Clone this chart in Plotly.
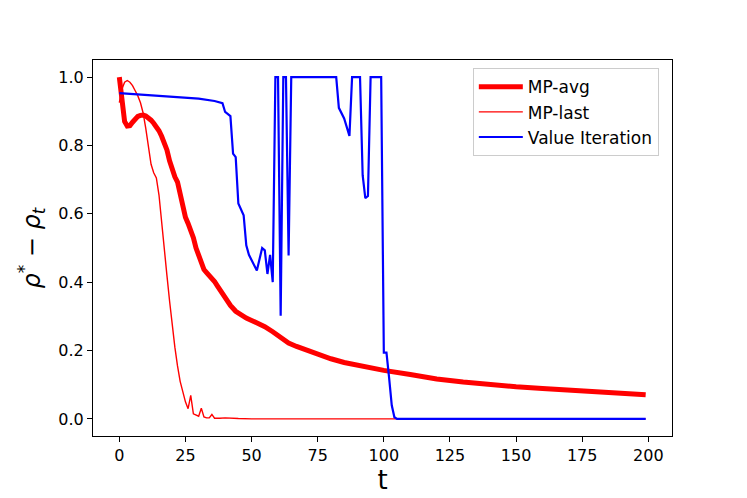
import plotly.graph_objects as go

# MP-avg (thick red)
avg_t = [0, 1, 2, 3, 4, 5, 6, 7, 8, 9, 10, 11, 12, 13, 14, 15, 16, 17, 18, 19,
         20, 21, 22, 23, 24, 25, 26, 27, 28, 29, 30, 31, 32, 33, 34, 35, 36, 37,
         38, 40, 42, 44, 46, 48, 50, 52, 55, 58, 61, 64, 67, 70, 75, 80, 85, 90,
         95, 100, 110, 120, 130, 140, 150, 160, 170, 180, 190, 199]
avg_val = [1.0, 0.93, 0.87, 0.857, 0.858, 0.868, 0.878, 0.885, 0.888, 0.889,
           0.886, 0.881, 0.874, 0.865, 0.855, 0.843, 0.827, 0.81, 0.787, 0.755,
           0.725, 0.708, 0.693, 0.655, 0.615, 0.59, 0.572, 0.555, 0.53, 0.5,
           0.475, 0.455, 0.437, 0.428, 0.42, 0.414, 0.402, 0.39, 0.378, 0.352,
           0.332, 0.315, 0.303, 0.295, 0.288, 0.281, 0.27, 0.255, 0.24, 0.222,
           0.212, 0.203, 0.188, 0.176, 0.165, 0.157, 0.149, 0.142, 0.13, 0.117,
           0.108, 0.1, 0.094, 0.089, 0.084, 0.079, 0.075, 0.071]

# MP-last (thin red)
last_t = [0, 1, 2, 3, 4, 5, 6, 7, 8, 9, 10, 11, 12, 13, 14, 15, 16, 17, 18, 19,
          20, 21, 22, 23, 24, 25, 26, 27, 28, 29, 30, 31, 32, 33, 34, 35, 36,
          38, 40, 45, 50, 199]
last_val = [0.925, 0.965, 0.985, 0.99, 0.985, 0.975, 0.96, 0.945, 0.925, 0.895,
            0.85, 0.79, 0.745, 0.72, 0.705, 0.655, 0.57, 0.5, 0.42, 0.345,
            0.27, 0.21, 0.155, 0.11, 0.08, 0.05, 0.03, 0.069, 0.015, 0.012,
            0.008, 0.031, 0.006, 0.003, 0.003, 0.013, 0.002, 0.002, 0.003,
            0.001, 0.0, 0.0]

# Value Iteration (blue)
vi_t = [0, 10, 20, 30, 36, 38, 39, 40, 42, 43, 44, 45, 47, 48, 49, 52, 54, 55,
        56, 57, 58, 59, 60, 61, 62, 63, 64, 65, 82, 83, 85, 87, 88, 91, 92, 93,
        94, 95, 99, 100, 101, 102, 103, 104, 105, 199]
vi_val = [0.953, 0.948, 0.943, 0.937, 0.930, 0.926, 0.924, 0.898, 0.886, 0.776,
          0.766, 0.63, 0.596, 0.508, 0.48, 0.434, 0.50, 0.493, 0.424, 0.48,
          0.40, 1.0, 1.0, 0.302, 1.0, 1.0, 0.478, 1.0, 1.0, 0.91, 0.879, 0.828,
          1.0, 1.0, 0.713, 0.646, 0.652, 1.0, 1.0, 0.194, 0.194, 0.12, 0.04,
          0.005, 0.0, 0.0]

fig = go.Figure()
fig.add_trace(go.Scatter(x=avg_t, y=avg_val, mode='lines', name='MP-avg',
                         line=dict(color='#ff0000', width=5)))
fig.add_trace(go.Scatter(x=last_t, y=last_val, mode='lines', name='MP-last',
                         line=dict(color='#ff0000', width=1.4)))
fig.add_trace(go.Scatter(x=vi_t, y=vi_val, mode='lines', name='Value Iteration',
                         line=dict(color='#0000ff', width=2.2)))

axis_style = dict(showline=True, mirror=True, linecolor='black', linewidth=1.2,
                  ticks='outside', ticklen=5, tickcolor='black', showgrid=False,
                  zeroline=False, automargin=False,
                  tickfont=dict(size=16, color='black'))

# page body adds an 8px offset, so the figure is a little smaller than the window
fig.update_layout(
    width=739, height=490,
    margin=dict(l=85, r=75, t=52, b=62),
    paper_bgcolor='white', plot_bgcolor='white',
    font=dict(family='DejaVu Sans', color='black'),
    showlegend=True,
    legend=dict(x=0.656, y=0.978, xanchor='left', yanchor='top',
                bgcolor='rgba(255,255,255,0.8)', bordercolor='#cccccc',
                borderwidth=1, font=dict(size=17), itemwidth=44,
                tracegroupgap=0),
    xaxis=dict(range=[-9.95, 208.95], tickvals=[0, 25, 50, 75, 100, 125, 150, 175, 200],
               title=dict(text='t', font=dict(size=26), standoff=2), **axis_style),
    yaxis=dict(range=[-0.05, 1.05], tickvals=[0, 0.2, 0.4, 0.6, 0.8, 1.0], tickformat='.1f',
               title=dict(text='<i>ρ</i><sup>*</sup> − <i>ρ</i><sub><i>t</i></sub>',
                          font=dict(size=24), standoff=10), **axis_style),
)

fig.write_html("out.html", config={'displayModeBar': False})
